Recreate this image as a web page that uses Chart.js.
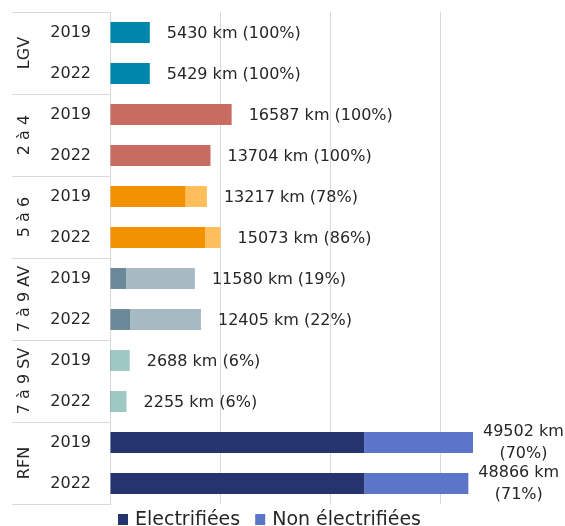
<!DOCTYPE html>
<html lang="fr">
<head>
<meta charset="utf-8">
<script src="https://cdn.jsdelivr.net/npm/chart.js@4.4.1/dist/chart.umd.min.js"></script>
<style>
  html, body { margin: 0; padding: 0; background: #fff; overflow: hidden; }
  #wrap { position: relative; width: 565px; height: 526px; }
</style>
</head>
<body>
<div id="wrap"><canvas id="lignesChart"></canvas></div>
<script>
// Données
const groupes = ['LGV', '2 à 4', '5 à 6', '7 à 9 AV', '7 à 9 SV', 'RFN'];
const annees = ['2019', '2022', '2019', '2022', '2019', '2022', '2019', '2022', '2019', '2022', '2019', '2022'];
const electrifiees = [5430, 5429, 16587, 13704, 10309, 12963, 2200, 2729, 161, 135, 34651, 34695];
const nonElectrifiees = [0, 0, 0, 0, 2908, 2110, 9380, 9676, 2527, 2120, 14851, 14171];
const totaux = [5430, 5429, 16587, 13704, 13217, 15073, 11580, 12405, 2688, 2255, 49502, 48866];
const pourcentages = [100, 100, 100, 100, 78, 86, 19, 22, 6, 6, 70, 71];
const graduations = [0, 15000, 30000, 45000, 60000];
const legendes = ['Electrifiées', 'Non électrifiées'];

// Couleurs par groupe (foncé = électrifié, clair = non électrifié)
const coresElec = ['#0085ad', '#0085ad', '#c86b60', '#c86b60', '#f39200', '#f39200',
                   '#6b8898', '#6b8898', '#4f9c94', '#4f9c94', '#25336e', '#25336e'];
const coresNon = ['#0085ad', '#0085ad', '#c86b60', '#c86b60', '#ffbe5c', '#ffbe5c',
                  '#a7b9c3', '#a7b9c3', '#9dc8c4', '#9dc8c4', '#5b75c9', '#5b75c9'];
const coresLegende = ['#25336e', '#5b75c9'];

const police = 'DejaVu Sans, sans-serif';
const couleurTexte = '#262626';

// Étiquettes "xxx km (yy%)" à droite des barres
const pluginEtiquettes = {
    id: 'etiquettes',
    afterDatasetsDraw(chart) {
        const ctx = chart.ctx;
        const meta = chart.getDatasetMeta(1);
        ctx.save();
        ctx.font = '16px ' + police;
        ctx.fillStyle = couleurTexte;
        ctx.textBaseline = 'middle';
        meta.data.forEach((bar, i) => {
            const ligne1 = totaux[i] + ' km';
            const ligne2 = '(' + pourcentages[i] + '%)';
            const texte = ligne1 + ' ' + ligne2;
            const x = bar.x + 17;
            if (x + ctx.measureText(texte).width > chart.width) {
                // pas de place : sur deux lignes
                const larg = ctx.measureText(ligne1).width;
                const cx = bar.x + 10 + larg / 2;
                ctx.textAlign = 'center';
                ctx.fillText(ligne1, cx, bar.y - 11);
                ctx.fillText(ligne2, cx, bar.y + 11);
            } else {
                ctx.textAlign = 'left';
                ctx.fillText(texte, x, bar.y + 1);
            }
        });
        ctx.restore();
    }
};

// Axe à deux niveaux : groupes verticaux + séparateurs
const pluginGroupes = {
    id: 'groupes',
    afterDraw(chart) {
        const ctx = chart.ctx;
        const y = chart.scales.y;
        const gauche = 12;
        const droite = chart.chartArea.left;
        ctx.save();
        ctx.strokeStyle = '#d9d9d9';
        ctx.lineWidth = 1;
        const bornes = [];
        for (let g = 0; g <= groupes.length; g++) {
            let yy;
            if (g === 0) yy = chart.chartArea.top;
            else if (g === groupes.length) yy = chart.chartArea.bottom;
            else yy = (y.getPixelForValue(2 * g - 1) + y.getPixelForValue(2 * g)) / 2;
            bornes.push(yy);
            ctx.beginPath();
            ctx.moveTo(gauche, Math.round(yy) + 0.5);
            ctx.lineTo(droite, Math.round(yy) + 0.5);
            ctx.stroke();
        }
        ctx.font = '16px ' + police;
        ctx.fillStyle = couleurTexte;
        ctx.textAlign = 'center';
        ctx.textBaseline = 'middle';
        groupes.forEach((nom, g) => {
            const cy = (bornes[g] + bornes[g + 1]) / 2;
            ctx.save();
            ctx.translate(25, cy);
            ctx.rotate(-Math.PI / 2);
            ctx.fillText(nom, 0, 0);
            ctx.restore();
        });
        ctx.restore();
    }
};

// Légende en bas, en partie coupée comme sur l'original
const pluginLegende = {
    id: 'legendeBas',
    afterDraw(chart) {
        const ctx = chart.ctx;
        ctx.save();
        ctx.font = '19px ' + police;
        ctx.textBaseline = 'middle';
        ctx.textAlign = 'left';
        let x = 118;
        const yMil = 520;
        legendes.forEach((txt, i) => {
            ctx.fillStyle = coresLegende[i];
            ctx.fillRect(x, yMil - 6, 10, 11);
            ctx.fillStyle = couleurTexte;
            ctx.fillText(txt, x + 17, yMil);
            x += 17 + ctx.measureText(txt).width + 15;
        });
        ctx.restore();
    }
};

const ctx = document.getElementById('lignesChart').getContext('2d');
new Chart(ctx, {
    type: 'bar',
    data: {
        labels: annees,
        datasets: [{
            label: legendes[0],
            data: electrifiees,
            backgroundColor: coresElec,
            borderWidth: 0
        }, {
            label: legendes[1],
            data: nonElectrifiees,
            backgroundColor: coresNon,
            borderWidth: 0
        }]
    },
    options: {
        indexAxis: 'y',
        responsive: true,
        maintainAspectRatio: false,
        animation: false,
        layout: { padding: { top: 12, right: 15, bottom: 22, left: 0 } },
        datasets: { bar: { categoryPercentage: 1, barPercentage: 0.51 } },
        plugins: {
            legend: { display: false },
            tooltip: { enabled: false }
        },
        scales: {
            x: {
                stacked: true,
                min: 0,
                max: 60000,
                afterBuildTicks: function(scale) {
                    scale.ticks = graduations.map(v => ({ value: v }));
                },
                ticks: { display: false },
                border: { display: false },
                grid: {
                    drawTicks: false,
                    color: function(c) {
                        return c.tick && c.tick.value === 60000 ? 'rgba(0,0,0,0)' : '#d9d9d9';
                    }
                }
            },
            y: {
                stacked: true,
                afterFit: function(scale) {
                    scale.width = 110;
                    scale.paddingTop = 0;
                    scale.paddingBottom = 0;
                },
                ticks: {
                    font: { family: police, size: 16 },
                    color: couleurTexte,
                    padding: 19
                },
                border: { display: true, color: '#d9d9d9' },
                grid: { drawOnChartArea: false, drawTicks: false }
            }
        }
    },
    plugins: [pluginEtiquettes, pluginGroupes, pluginLegende]
});
</script>
</body>
</html>
